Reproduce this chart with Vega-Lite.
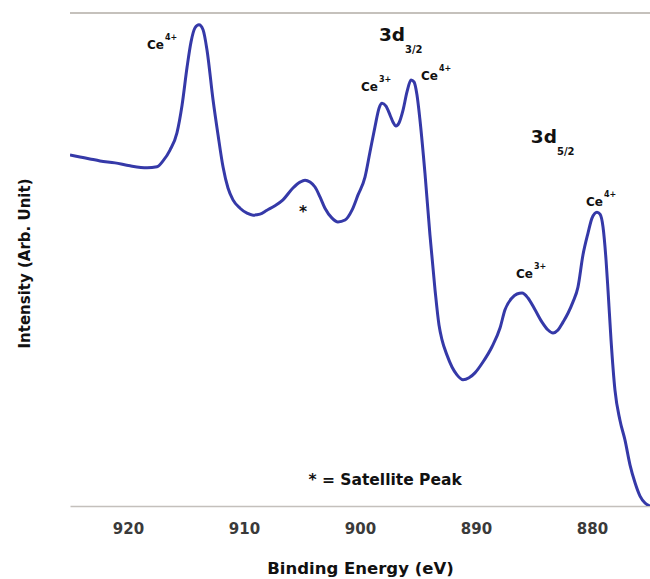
{
  "$schema": "https://vega.github.io/schema/vega-lite/v6.json",
  "autosize": {"type": "none"},
  "width": 580,
  "height": 493,
  "padding": {"left": 70, "top": 13, "right": 0, "bottom": 73},
  "background": "#ffffff",
  "config": {"view": {"stroke": null}, "font": "DejaVu Sans"},
  "datasets": {
    "spectrum": [
      {"E": 925.0, "I": 71.2}, {"E": 924.14, "I": 70.8}, {"E": 923.28, "I": 70.4}, {"E": 922.41, "I": 70.0},
      {"E": 921.12, "I": 69.6}, {"E": 919.83, "I": 69.0}, {"E": 918.36, "I": 68.6}, {"E": 917.5, "I": 68.8},
      {"E": 916.98, "I": 70.0}, {"E": 916.38, "I": 72.2}, {"E": 915.78, "I": 75.7}, {"E": 915.34, "I": 81.3},
      {"E": 914.91, "I": 89.0}, {"E": 914.57, "I": 94.1}, {"E": 914.22, "I": 97.0}, {"E": 913.88, "I": 97.6},
      {"E": 913.53, "I": 96.6}, {"E": 913.19, "I": 92.5}, {"E": 912.67, "I": 82.4}, {"E": 912.24, "I": 75.3},
      {"E": 911.81, "I": 68.8}, {"E": 911.38, "I": 64.5}, {"E": 910.95, "I": 62.1}, {"E": 910.34, "I": 60.4},
      {"E": 909.74, "I": 59.4}, {"E": 909.22, "I": 59.0}, {"E": 908.62, "I": 59.2}, {"E": 908.02, "I": 60.0},
      {"E": 907.33, "I": 60.9}, {"E": 906.64, "I": 62.1}, {"E": 905.78, "I": 64.5}, {"E": 905.17, "I": 65.7},
      {"E": 904.74, "I": 66.1}, {"E": 904.31, "I": 65.7}, {"E": 903.88, "I": 64.7}, {"E": 903.45, "I": 62.7},
      {"E": 903.02, "I": 60.4}, {"E": 902.41, "I": 58.4}, {"E": 901.9, "I": 57.6}, {"E": 901.29, "I": 58.0},
      {"E": 900.69, "I": 60.0}, {"E": 900.17, "I": 63.1}, {"E": 899.57, "I": 66.7}, {"E": 899.14, "I": 71.8},
      {"E": 898.71, "I": 76.9}, {"E": 898.36, "I": 80.7}, {"E": 898.1, "I": 81.7}, {"E": 897.76, "I": 81.1},
      {"E": 897.41, "I": 79.3}, {"E": 897.16, "I": 77.9}, {"E": 896.9, "I": 77.1}, {"E": 896.64, "I": 77.7},
      {"E": 896.29, "I": 80.3}, {"E": 895.95, "I": 84.0}, {"E": 895.6, "I": 86.4}, {"E": 895.34, "I": 86.0},
      {"E": 895.09, "I": 83.4}, {"E": 894.83, "I": 78.3}, {"E": 894.4, "I": 67.5}, {"E": 893.97, "I": 55.0},
      {"E": 893.53, "I": 43.8}, {"E": 893.19, "I": 36.7}, {"E": 892.93, "I": 33.7}, {"E": 892.5, "I": 30.6},
      {"E": 892.07, "I": 28.2}, {"E": 891.64, "I": 26.6}, {"E": 891.12, "I": 25.6}, {"E": 890.6, "I": 26.0},
      {"E": 890.09, "I": 27.0}, {"E": 889.4, "I": 29.2}, {"E": 888.62, "I": 32.3}, {"E": 887.93, "I": 36.1},
      {"E": 887.5, "I": 39.8}, {"E": 886.9, "I": 42.2}, {"E": 886.47, "I": 43.0}, {"E": 886.03, "I": 43.2},
      {"E": 885.52, "I": 42.2}, {"E": 884.91, "I": 39.8}, {"E": 884.31, "I": 37.3}, {"E": 883.79, "I": 35.7},
      {"E": 883.36, "I": 35.1}, {"E": 882.93, "I": 35.7}, {"E": 882.5, "I": 37.3}, {"E": 882.07, "I": 39.1},
      {"E": 881.64, "I": 41.4}, {"E": 881.21, "I": 44.4}, {"E": 880.78, "I": 50.9}, {"E": 880.34, "I": 55.4},
      {"E": 880.0, "I": 58.4}, {"E": 879.57, "I": 59.6}, {"E": 879.31, "I": 59.2}, {"E": 879.05, "I": 56.6},
      {"E": 878.79, "I": 49.9}, {"E": 878.62, "I": 43.8}, {"E": 878.36, "I": 33.7}, {"E": 878.02, "I": 23.5},
      {"E": 877.59, "I": 17.4}, {"E": 877.16, "I": 13.4}, {"E": 876.72, "I": 8.3}, {"E": 876.29, "I": 4.7},
      {"E": 875.86, "I": 2.0}, {"E": 875.43, "I": 0.6}, {"E": 875.0, "I": 0.0}
    ],
    "ions": [
      {"E": 916.9, "I": 93.5, "label": "Ce", "sup": "4+"},
      {"E": 898.45, "I": 85.0, "label": "Ce", "sup": "3+"},
      {"E": 893.28, "I": 87.2, "label": "Ce", "sup": "4+"},
      {"E": 885.09, "I": 47.1, "label": "Ce", "sup": "3+"},
      {"E": 879.05, "I": 61.7, "label": "Ce", "sup": "4+"}
    ],
    "shells": [
      {"E": 896.12, "I": 95.5, "label": "3d", "sub": "3/2"},
      {"E": 883.02, "I": 74.8, "label": "3d", "sub": "5/2"}
    ],
    "notes": [
      {"E": 904.91, "I": 59.6, "label": "*"},
      {"E": 897.84, "I": 5.3, "label": "* = Satellite Peak"}
    ]
  },
  "layer": [
    {
      "data": {"name": "spectrum"},
      "mark": {"type": "rule", "color": "#c4c0bc", "strokeWidth": 1.5},
      "encoding": {"y": {"datum": 100, "type": "quantitative"}}
    },
    {
      "data": {"name": "spectrum"},
      "mark": {"type": "line", "color": "#3539a8", "strokeWidth": 3, "clip": true, "interpolate": "monotone"},
      "encoding": {
        "x": {
          "field": "E", "type": "quantitative",
          "scale": {"domain": [925, 875], "nice": false},
          "axis": {
            "title": "Binding Energy (eV)", "values": [920, 910, 900, 890, 880],
            "grid": false, "ticks": false, "domainColor": "#c4c0bc", "domainWidth": 1.5,
            "labelFont": "DejaVu Sans", "labelFontSize": 15, "labelFontWeight": "bold", "labelColor": "#3a3a3a",
            "labelPadding": 15,
            "titleFont": "DejaVu Sans", "titleFontSize": 16.5, "titleFontWeight": "bold", "titleColor": "#111111",
            "titlePadding": 24
          }
        },
        "y": {
          "field": "I", "type": "quantitative",
          "scale": {"domain": [0, 100], "nice": false, "zero": false},
          "axis": {
            "title": "Intensity (Arb. Unit)", "labels": false, "ticks": false, "domain": false, "grid": false,
            "titleFont": "DejaVu Sans", "titleFontSize": 15, "titleFontWeight": "bold", "titleColor": "#111111",
            "titlePadding": 38, "titleY": 250
          }
        }
      }
    },
    {
      "data": {"name": "ions"},
      "mark": {"type": "text", "align": "right", "baseline": "middle", "fontSize": 12, "fontWeight": "bold", "color": "#111111", "font": "DejaVu Sans"},
      "encoding": {"x": {"field": "E", "type": "quantitative"}, "y": {"field": "I", "type": "quantitative"}, "text": {"field": "label"}}
    },
    {
      "data": {"name": "ions"},
      "mark": {"type": "text", "align": "left", "baseline": "middle", "dx": 1, "dy": -7, "fontSize": 8, "fontWeight": "bold", "color": "#111111", "font": "DejaVu Sans"},
      "encoding": {"x": {"field": "E", "type": "quantitative"}, "y": {"field": "I", "type": "quantitative"}, "text": {"field": "sup"}}
    },
    {
      "data": {"name": "shells"},
      "mark": {"type": "text", "align": "right", "baseline": "middle", "fontSize": 18.5, "fontWeight": "bold", "color": "#111111", "font": "DejaVu Sans"},
      "encoding": {"x": {"field": "E", "type": "quantitative"}, "y": {"field": "I", "type": "quantitative"}, "text": {"field": "label"}}
    },
    {
      "data": {"name": "shells"},
      "mark": {"type": "text", "align": "left", "baseline": "middle", "dx": 0, "dy": 15, "fontSize": 10, "fontWeight": "bold", "color": "#111111", "font": "DejaVu Sans"},
      "encoding": {"x": {"field": "E", "type": "quantitative"}, "y": {"field": "I", "type": "quantitative"}, "text": {"field": "sub"}}
    },
    {
      "data": {"name": "notes"},
      "mark": {"type": "text", "align": "center", "baseline": "middle", "fontSize": 15.5, "fontWeight": "bold", "color": "#111111", "font": "DejaVu Sans"},
      "encoding": {"x": {"field": "E", "type": "quantitative"}, "y": {"field": "I", "type": "quantitative"}, "text": {"field": "label"}}
    }
  ]
}
